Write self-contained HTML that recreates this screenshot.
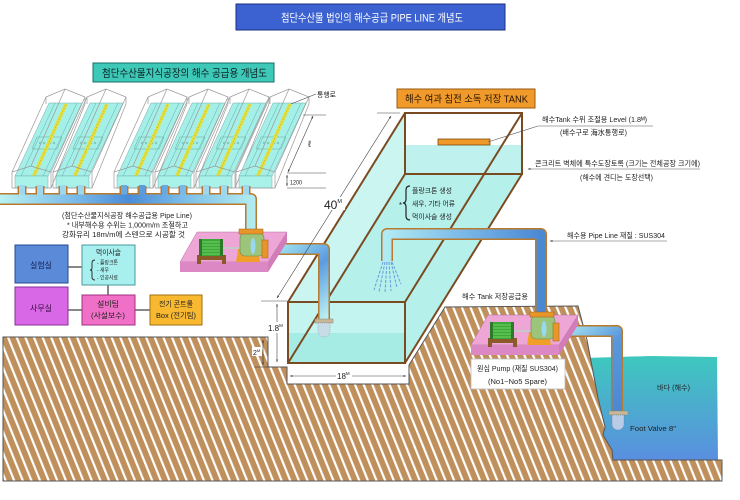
<!DOCTYPE html>
<html><head><meta charset="utf-8"><style>
html,body{margin:0;padding:0;background:#fff;}
svg{display:block;}
text{font-family:"Liberation Sans","Noto Sans CJK KR","DejaVu Sans",sans-serif;fill:#222;}
</style></head><body>
<svg width="740" height="500" viewBox="0 0 740 500" xmlns="http://www.w3.org/2000/svg">
<defs>
<pattern id="hatch" width="8" height="8" patternUnits="userSpaceOnUse" patternTransform="rotate(-22)">
<rect width="8" height="8" fill="#c0905c"/>
<rect width="2.2" height="8" fill="#fff"/>
</pattern>
<linearGradient id="sea" x1="0" y1="0" x2="0" y2="1">
<stop offset="0" stop-color="#3ec8be"/><stop offset="1" stop-color="#5a8ee0"/>
</linearGradient>
<linearGradient id="hdr" gradientUnits="userSpaceOnUse" x1="0" y1="0" x2="257" y2="0">
<stop offset="0" stop-color="#b8f2f2"/><stop offset="0.3" stop-color="#78b8e8"/><stop offset="0.5" stop-color="#4a8cd8"/><stop offset="0.72" stop-color="#7cbee8"/><stop offset="1" stop-color="#b4eef2"/>
</linearGradient>
<linearGradient id="p1" gradientUnits="userSpaceOnUse" x1="268" y1="249" x2="324" y2="318">
<stop offset="0" stop-color="#a8eaf0"/><stop offset="0.5" stop-color="#5a9ce0"/><stop offset="1" stop-color="#b8eef2"/>
</linearGradient>
<linearGradient id="p2" gradientUnits="userSpaceOnUse" x1="387" y1="0" x2="541" y2="0">
<stop offset="0" stop-color="#b0eaf2"/><stop offset="0.5" stop-color="#7ab8e8"/><stop offset="1" stop-color="#4a88d4"/>
</linearGradient>
<linearGradient id="p3" gradientUnits="userSpaceOnUse" x1="559" y1="331" x2="617" y2="412">
<stop offset="0" stop-color="#a8e6f2"/><stop offset="0.4" stop-color="#5a98dc"/><stop offset="1" stop-color="#4a88d4"/>
</linearGradient>
<marker id="ah" viewBox="0 0 10 10" refX="9" refY="5" markerWidth="5" markerHeight="5" orient="auto-start-reverse">
<path d="M0,2 L10,5 L0,8z" fill="#333"/>
</marker>
<g id="gh">
 <polygon points="3,176 36,176 70,103 37,103" fill="#a4f0e8" stroke="#7aa" stroke-width="0.5"/>
 <line x1="9" y1="176" x2="43" y2="103" stroke="#6aa" stroke-width="0.5"/>
 <line x1="31" y1="176" x2="65" y2="103" stroke="#6aa" stroke-width="0.5"/>
 <polygon points="20,149 45,149 50,137 25,137" fill="none" stroke="#6a9" stroke-width="0.5"/>
 <circle cx="28" cy="143" r="1" fill="none" stroke="#6a9" stroke-width="0.5"/>
 <circle cx="32" cy="143" r="1" fill="none" stroke="#6a9" stroke-width="0.5"/>
 <circle cx="38" cy="143" r="1" fill="none" stroke="#6a9" stroke-width="0.5"/>
 <circle cx="42" cy="143" r="1" fill="none" stroke="#6a9" stroke-width="0.5"/>
 <line x1="20" y1="180" x2="54" y2="104" stroke="#e4e040" stroke-width="3.5"/>
 <line x1="20" y1="180" x2="54" y2="104" stroke="#b8b020" stroke-width="0.8" stroke-dasharray="1 2"/>
 <rect x="3" y="176" width="33" height="12" fill="#a8f2ea" stroke="#7aa" stroke-width="0.5"/>
 <g fill="none" stroke="#999" stroke-width="0.7">
  <polyline points="0,188 0,172 19,166 39,172 39,188 0,188"/>
  <polyline points="34,104 34,97 53,89 73,97 73,104"/>
  <line x1="0" y1="172" x2="34" y2="97"/>
  <line x1="19" y1="166" x2="53" y2="89"/>
  <line x1="39" y1="172" x2="73" y2="97"/>
  <line x1="39" y1="188" x2="73" y2="104"/>
 </g>
</g>
<g id="pump">
 <polygon points="197,232 287,232 268,262 180,262" fill="#eea6d6" stroke="#b070a0" stroke-width="0.5"/>
 <polygon points="180,262 268,262 268,272 180,272" fill="#dc88c4"/>
 <polygon points="268,262 287,232 287,242 268,272" fill="#d27cba"/>
 <rect x="197" y="255" width="29" height="5" fill="#8c5a28"/>
 <rect x="197" y="259" width="4" height="5" fill="#8c5a28"/>
 <rect x="222" y="259" width="4" height="5" fill="#8c5a28"/>
 <rect x="200" y="239" width="22" height="17" rx="2" fill="#3aa83a"/>
 <g stroke="#8ee070" stroke-width="0.8"><line x1="202" y1="242" x2="220" y2="242"/><line x1="202" y1="245" x2="220" y2="245"/><line x1="202" y1="248" x2="220" y2="248"/><line x1="202" y1="251" x2="220" y2="251"/><line x1="202" y1="254" x2="220" y2="254"/></g>
 <rect x="199" y="239" width="3" height="17" fill="#2a7a2a"/>
 <rect x="220" y="239" width="3" height="17" fill="#2a7a2a"/>
 <rect x="223" y="247" width="17" height="2" fill="#c8c8c8"/>
 <polygon points="236,262 238,249 258,249 260,262" fill="#f0a028"/>
 <rect x="240" y="233" width="24" height="23" rx="5" fill="#9cc47a" stroke="#6a8a50" stroke-width="0.6"/>
 <ellipse cx="253" cy="246" rx="2.5" ry="8" fill="#98d8f0"/>
 <rect x="239" y="229" width="24" height="5" fill="#e8962a" stroke="#a06010" stroke-width="0.5"/>
 <rect x="262" y="240" width="6" height="18" fill="#e8962a" stroke="#a06010" stroke-width="0.5"/>
</g>
</defs>

<!-- title -->
<rect x="236" y="4" width="269" height="26" fill="#3b62d0" stroke="#1a2f80" stroke-width="1"/>
<text x="281" y="21.5" font-size="11" style="fill:#fff" textLength="182" lengthAdjust="spacingAndGlyphs">첨단수산물 법인의 해수공급 PIPE LINE 개념도</text>

<!-- subtitle -->
<rect x="93" y="63" width="181" height="19" fill="#3ec8b8" stroke="#1a6e66" stroke-width="1"/>
<text x="102" y="76.5" font-size="10.5" style="fill:#0c2222" textLength="165" lengthAdjust="spacingAndGlyphs">첨단수산물지식공장의 해수 공급용 개념도</text>

<!-- sea -->
<polygon points="585,358 650,356 717,357 718,461 600,461" fill="url(#sea)"/>

<!-- ground -->
<polygon points="3,337 268,337 268,367 287,367 287,384 409,384 409,365 445,307 578,306 587,340 598,398 605,427 603,435 612,450 613,460 722,460 722,481 3,481" fill="url(#hatch)" stroke="#555" stroke-width="1"/>

<!-- greenhouses -->
<use href="#gh" x="12"/>
<use href="#gh" x="53"/>
<use href="#gh" x="114"/>
<use href="#gh" x="155"/>
<use href="#gh" x="196"/>
<use href="#gh" x="236"/>

<!-- tank -->
<polygon points="405,113 522,113 522,174 405,363 288,363 288,302" fill="#b6f0ea"/>
<polygon points="405,113 405,174 288,363 288,302" fill="#cbf5f1"/>
<rect x="405" y="113" width="117" height="32" fill="#fff"/>
<rect x="405" y="145" width="117" height="29" fill="#bff2ee"/>
<rect x="288" y="302" width="117" height="31" fill="#c4f4ef"/>
<rect x="288" y="333" width="117" height="30" fill="#a6ece5"/>
<g stroke="#7a4a20" stroke-width="2" fill="none">
 <rect x="405" y="113" width="117" height="61"/>
 <rect x="288" y="302" width="117" height="61"/>
 <line x1="405" y1="113" x2="288" y2="302"/>
 <line x1="522" y1="113" x2="405" y2="302"/>
 <line x1="405" y1="174" x2="288" y2="363"/>
 <line x1="522" y1="174" x2="405" y2="363"/>
</g>
<rect x="438" y="139" width="52" height="6" fill="#f09828" stroke="#7a4a10" stroke-width="0.8"/>

<!-- spray -->
<g stroke="#6a9ae0" stroke-width="1" stroke-dasharray="3 1.5">
 <line x1="383" y1="262" x2="374" y2="290"/>
 <line x1="385" y1="262" x2="379" y2="292"/>
 <line x1="387" y1="262" x2="385" y2="293"/>
 <line x1="389" y1="262" x2="391" y2="291"/>
 <line x1="391" y1="262" x2="397" y2="288"/>
 <line x1="392" y1="262" x2="401" y2="284"/>
</g>

<!-- pipes outer -->
<g fill="none" stroke="#b87a30" stroke-linejoin="round">
 <g stroke-width="9">
  <line x1="22" y1="186" x2="22" y2="199"/><line x1="40" y1="186" x2="40" y2="199"/>
  <line x1="63" y1="186" x2="63" y2="199"/><line x1="81" y1="186" x2="81" y2="199"/>
  <line x1="124" y1="186" x2="124" y2="199"/><line x1="142" y1="186" x2="142" y2="199"/>
  <line x1="165" y1="186" x2="165" y2="199"/><line x1="183" y1="186" x2="183" y2="199"/>
  <line x1="206" y1="186" x2="206" y2="199"/><line x1="224" y1="186" x2="224" y2="199"/>
  <line x1="246" y1="186" x2="246" y2="196"/>
 </g>
 <g stroke-width="12">
  <path d="M0,199 H251 V231"/>
  <path d="M268,249 H324 V319"/>
  <path d="M541,315 V234 H387 V261"/>
  <path d="M559,331 H617 V412"/>
 </g>
</g>
<!-- pipes inner -->
<g fill="none" stroke-linejoin="round">
 <g stroke-width="6" stroke="#9fd8ec">
  <line x1="22" y1="185" x2="22" y2="200"/><line x1="40" y1="185" x2="40" y2="200"/>
  <line x1="63" y1="185" x2="63" y2="200"/><line x1="81" y1="185" x2="81" y2="200"/>
  <line x1="124" y1="185" x2="124" y2="200" stroke="#6aa8e0"/><line x1="142" y1="185" x2="142" y2="200" stroke="#5a9ce0"/>
  <line x1="165" y1="185" x2="165" y2="200" stroke="#6aa8e0"/><line x1="183" y1="185" x2="183" y2="200" stroke="#7ab8e8"/>
  <line x1="206" y1="185" x2="206" y2="200"/><line x1="224" y1="185" x2="224" y2="200"/>
  <line x1="246" y1="185" x2="246" y2="198"/>
 </g>
 <g stroke-width="9">
  <path d="M0,199 H251 V232" stroke="url(#hdr)"/>
  <path d="M267,249 H324 V320" stroke="url(#p1)"/>
  <path d="M541,316 V234 H387 V262" stroke="url(#p2)"/>
  <path d="M558,331 H617 V412" stroke="url(#p3)"/>
 </g>
</g>

<!-- foot valves -->
<rect x="315" y="319" width="18" height="4" fill="#c8b898" stroke="#887" stroke-width="0.5"/>
<path d="M318,323 H330 V331 A6,6 0 0 1 318,331 Z" fill="#c8dce8" stroke="#889" stroke-width="0.5" stroke-dasharray="1 1"/>
<rect x="609" y="411" width="19" height="4" fill="#c8b898" stroke="#887" stroke-width="0.5"/>
<path d="M612,415 H624 V424 A6,6 0 0 1 612,424 Z" fill="#b8cce8" stroke="#667" stroke-width="0.5" stroke-dasharray="1 1"/>

<!-- pumps -->
<use href="#pump"/>
<use href="#pump" transform="translate(291,83)"/>

<!-- greenhouse dims -->
<g stroke="#444" stroke-width="0.6" fill="none">
 <line x1="316" y1="94" x2="291" y2="104"/>
 <line x1="303" y1="115" x2="326" y2="115"/>
 <line x1="287" y1="173" x2="326" y2="173"/>
 <line x1="287" y1="188" x2="326" y2="188"/>
 <line x1="313" y1="116" x2="288" y2="172" marker-start="url(#ah)" marker-end="url(#ah)"/>
 <line x1="287" y1="175" x2="287" y2="186" marker-start="url(#ah)" marker-end="url(#ah)"/>
</g>
<text x="317" y="97" font-size="7" textLength="19" lengthAdjust="spacingAndGlyphs">통행로</text>
<text x="308" y="147" font-size="9">ℓ</text>
<text x="290" y="184.5" font-size="6" textLength="12" lengthAdjust="spacingAndGlyphs">1200</text>

<!-- tank dims -->
<g stroke="#444" stroke-width="0.6" fill="none">
 <line x1="377" y1="113" x2="400" y2="113"/>
 <line x1="261" y1="301" x2="287" y2="301"/>
 <line x1="391" y1="116" x2="277" y2="298" marker-start="url(#ah)" marker-end="url(#ah)"/>
 <line x1="277" y1="304" x2="277" y2="362" marker-start="url(#ah)" marker-end="url(#ah)"/>
 <line x1="290" y1="376" x2="406" y2="376" marker-start="url(#ah)" marker-end="url(#ah)"/>
 <line x1="254" y1="367" x2="270" y2="367"/>
</g>
<rect x="323" y="197" width="22" height="13" fill="#fff"/>
<text x="324" y="209" font-size="12">40<tspan font-size="5.5" dy="-6">M</tspan></text>
<rect x="267" y="322" width="18" height="11" fill="#fff"/>
<text x="268" y="331" font-size="8">1.8<tspan font-size="4.5" dy="-4">M</tspan></text>
<rect x="336" y="371" width="16" height="10" fill="#fff"/>
<text x="337" y="379" font-size="8">18<tspan font-size="4.5" dy="-4">M</tspan></text>
<line x1="263" y1="340" x2="263" y2="365" stroke="#333" stroke-width="0.6" marker-start="url(#ah)" marker-end="url(#ah)"/>
<rect x="252" y="347" width="10" height="9" fill="#fff"/>
<text x="253" y="355" font-size="7">2<tspan font-size="4" dy="-3">M</tspan></text>

<!-- tank label -->
<rect x="397" y="89" width="138" height="19" fill="#f09a2c" stroke="#9a5a10" stroke-width="1"/>
<text x="405" y="102.5" font-size="10" style="fill:#2a1500" textLength="123" lengthAdjust="spacingAndGlyphs">해수 여과 침전 소독 저장 TANK</text>

<!-- right labels -->
<g stroke="#555" stroke-width="0.6" fill="none">
 <line x1="488" y1="142" x2="538" y2="126"/>
 <line x1="538" y1="126" x2="653" y2="126"/>
 <line x1="528" y1="169" x2="700" y2="169" marker-start="url(#ah)"/>
 <line x1="550" y1="241" x2="667" y2="241" marker-start="url(#ah)"/>
</g>
<text x="542" y="122" font-size="7.5" textLength="105" lengthAdjust="spacingAndGlyphs">해수Tank 수위 조절용 Level (1.8ᴹ)</text>
<text x="560" y="135" font-size="7.5" textLength="67" lengthAdjust="spacingAndGlyphs">(배수구로 海水통행로)</text>
<text x="535" y="166" font-size="7.5" textLength="165" lengthAdjust="spacingAndGlyphs">콘크리트 벽체에 특수도장토록 (크기는 전체공장 크기에)</text>
<text x="580" y="180" font-size="7.5" textLength="73" lengthAdjust="spacingAndGlyphs">(해수에 견디는 도장선택)</text>
<text x="567" y="238" font-size="7.5" textLength="98" lengthAdjust="spacingAndGlyphs">해수용 Pipe Line 재질 : SUS304</text>

<!-- plankton note -->
<text x="399" y="208" font-size="8">*</text>
<path d="M410,186 Q406,186 406,190 V199 Q406,203 403,203 Q406,203 406,207 V216 Q406,220 410,220" fill="none" stroke="#222" stroke-width="1.2"/>
<text x="412" y="193" font-size="7" textLength="40" lengthAdjust="spacingAndGlyphs">플랑크톤 생성</text>
<text x="412" y="206" font-size="7" textLength="43" lengthAdjust="spacingAndGlyphs">새우, 기타 어류</text>
<text x="412" y="219" font-size="7" textLength="40" lengthAdjust="spacingAndGlyphs">먹이사슬 생성</text>

<!-- pump labels -->
<text x="462" y="299" font-size="7.5" textLength="66" lengthAdjust="spacingAndGlyphs">해수 Tank 저장공급용</text>
<rect x="471" y="359" width="94" height="30" fill="#fff" stroke="#bbb" stroke-width="0.8"/>
<text x="477" y="371" font-size="7.5" textLength="81" lengthAdjust="spacingAndGlyphs">원심 Pump (재질 SUS304)</text>
<text x="488" y="384" font-size="7.5" textLength="59" lengthAdjust="spacingAndGlyphs">(No1~No5 Spare)</text>
<text x="657" y="390" font-size="7" textLength="33" lengthAdjust="spacingAndGlyphs">바다 (해수)</text>
<text x="630" y="431" font-size="7.5" textLength="46" lengthAdjust="spacingAndGlyphs">Foot Valve 8"</text>

<!-- left notes -->
<text x="62" y="218" font-size="7.5" textLength="130" lengthAdjust="spacingAndGlyphs">(첨단수산물지식공장 해수공급용 Pipe Line)</text>
<text x="67" y="227.5" font-size="7.5" textLength="121" lengthAdjust="spacingAndGlyphs">* 내부해수용 수위는 1,000m/m 조절하고</text>
<text x="62" y="237" font-size="7.5" textLength="123" lengthAdjust="spacingAndGlyphs">강화유리 18m/m에 스텐으로 시공할 것</text>

<!-- org boxes -->
<g stroke="#888" stroke-width="2">
 <line x1="68" y1="267" x2="82" y2="267"/>
 <line x1="108" y1="285" x2="108" y2="295"/>
 <line x1="68" y1="310" x2="82" y2="310"/>
 <line x1="135" y1="310" x2="150" y2="310"/>
</g>
<rect x="15" y="245" width="53" height="38" fill="#5a8ad8" stroke="#2a4a90" stroke-width="1"/>
<text x="30" y="268" font-size="8" textLength="22" lengthAdjust="spacingAndGlyphs" style="fill:#102050">실험실</text>
<rect x="82" y="245" width="53" height="40" fill="#a8f0f0" stroke="#4a9a9a" stroke-width="1"/>
<text x="96" y="255" font-size="7.5" textLength="25" lengthAdjust="spacingAndGlyphs">먹이사슬</text>
<path d="M95,260 Q92,260 92,263 V268 Q92,270 90,270 Q92,270 92,272 V277 Q92,280 95,280" fill="none" stroke="#222" stroke-width="0.9"/>
<text x="97" y="264.5" font-size="5.5" textLength="21" lengthAdjust="spacingAndGlyphs">- 플랑크톤</text>
<text x="97" y="272" font-size="5.5" textLength="12" lengthAdjust="spacingAndGlyphs">- 새우</text>
<text x="97" y="279.5" font-size="5.5" textLength="21" lengthAdjust="spacingAndGlyphs">- 인공사료</text>
<rect x="15" y="287" width="53" height="38" fill="#d868e6" stroke="#8a3098" stroke-width="1"/>
<text x="30" y="311" font-size="8" textLength="22" lengthAdjust="spacingAndGlyphs" style="fill:#300838">사무실</text>
<rect x="82" y="295" width="53" height="30" fill="#f070c8" stroke="#a03080" stroke-width="1"/>
<text x="97" y="306.5" font-size="7.5" textLength="22" lengthAdjust="spacingAndGlyphs">설비팀</text>
<text x="91" y="318" font-size="7.5" textLength="34" lengthAdjust="spacingAndGlyphs">(사설보수)</text>
<rect x="150" y="295" width="52" height="30" fill="#f8b830" stroke="#a07010" stroke-width="1"/>
<text x="159" y="306.5" font-size="7.5" textLength="34" lengthAdjust="spacingAndGlyphs">전기 콘트롤</text>
<text x="156" y="318" font-size="7.5" textLength="40" lengthAdjust="spacingAndGlyphs">Box (전기팀)</text>
</svg>
</body></html>
